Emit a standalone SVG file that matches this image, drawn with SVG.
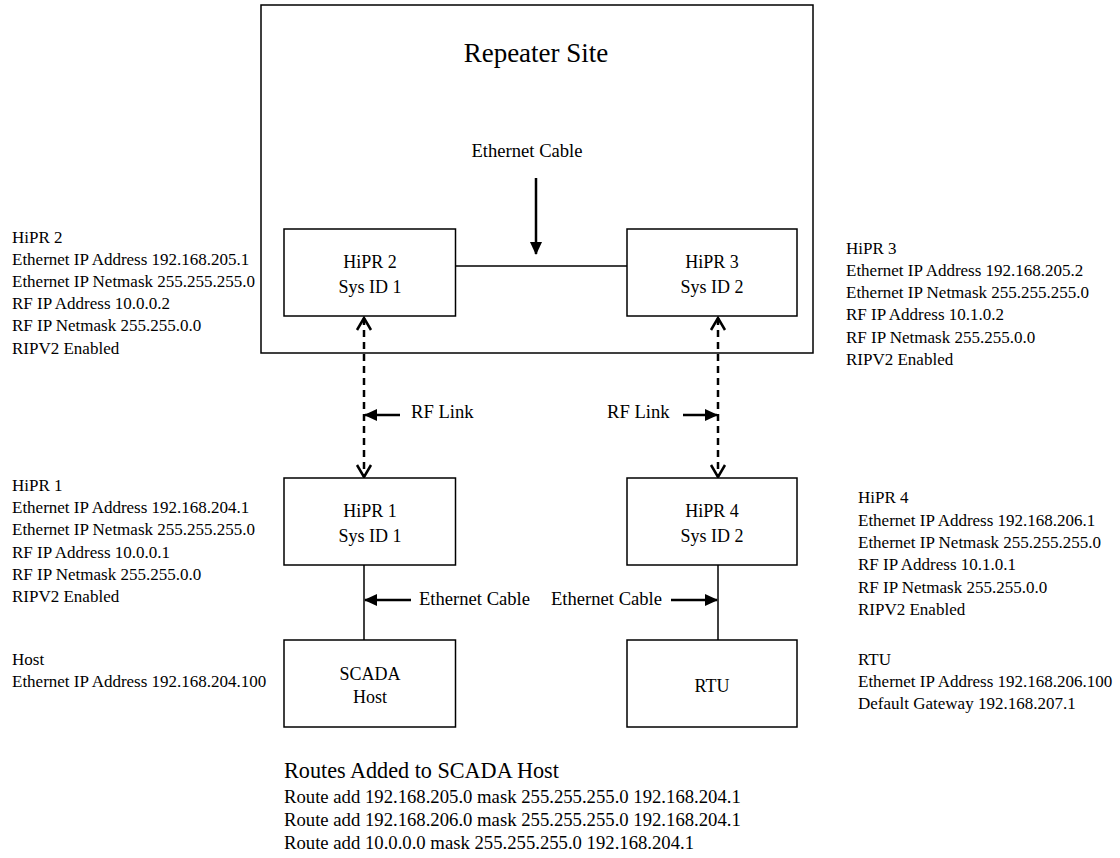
<svg xmlns="http://www.w3.org/2000/svg" width="1120" height="858" viewBox="0 0 1120 858">
<style>
text{font-family:"Liberation Serif","Times New Roman",serif;fill:#000}
.side{font-size:17px}
.box{fill:#fff;stroke:#000;stroke-width:1.5}
.bl{font-size:18px;text-anchor:middle}
.lbl{font-size:18.6px}
.route{font-size:18.7px}
.wire{stroke:#000;stroke-width:1.5;fill:none}
.arr{stroke:#000;stroke-width:2.5;fill:none;marker-end:url(#ah)}
.rf{stroke:#000;stroke-width:2.5;fill:none;stroke-dasharray:7 5;marker-start:url(#ch);marker-end:url(#ch)}
</style>
<defs>
<marker id="ah" markerUnits="userSpaceOnUse" markerWidth="13" markerHeight="12" refX="12" refY="6" orient="auto"><path d="M0,0 L13,6 L0,12 z" fill="#000"/></marker>
<marker id="ch" markerUnits="userSpaceOnUse" markerWidth="16" markerHeight="18" refX="13" refY="9" orient="auto-start-reverse"><path d="M1,2 L13,9 L1,16" fill="none" stroke="#000" stroke-width="2.5"/></marker>
</defs>
<rect width="1120" height="858" fill="#fff"/>
<g id="repeater-site">
<rect x="261" y="5" width="552" height="348" fill="none" stroke="#000" stroke-width="1.5"/>
<text x="536" y="62" font-size="27" text-anchor="middle">Repeater Site</text>
</g>
<g id="connectors">
<line class="wire" x1="455.5" y1="266" x2="627" y2="266"/>
<line class="wire" x1="364" y1="565" x2="364" y2="640"/>
<line class="wire" x1="718" y1="565" x2="718" y2="640"/>
<line class="rf" x1="364" y1="318" x2="364" y2="477"/>
<line class="rf" x1="718" y1="318" x2="718" y2="477"/>
<line class="arr" x1="536" y1="178" x2="536" y2="254"/>
<line class="arr" x1="400" y1="415" x2="365" y2="415"/>
<line class="arr" x1="683" y1="415" x2="717" y2="415"/>
<line class="arr" x1="411" y1="600" x2="365" y2="600"/>
<line class="arr" x1="671" y1="600" x2="717" y2="600"/>
<text class="lbl" x="527" y="157" text-anchor="middle">Ethernet Cable</text>
<text class="lbl" x="411" y="418">RF Link</text>
<text class="lbl" x="607" y="418">RF Link</text>
<text class="lbl" x="419" y="605">Ethernet Cable</text>
<text class="lbl" x="551" y="605">Ethernet Cable</text>
</g>
<g id="hipr2">
<rect class="box" x="284" y="229" width="171.5" height="87"/>
<text class="bl" x="370" y="268">HiPR 2</text>
<text class="bl" x="370" y="293">Sys ID 1</text>
</g>
<g id="hipr3">
<rect class="box" x="627" y="229" width="170" height="87"/>
<text class="bl" x="712" y="268">HiPR 3</text>
<text class="bl" x="712" y="293">Sys ID 2</text>
</g>
<g id="hipr1">
<rect class="box" x="284" y="478" width="171.5" height="87"/>
<text class="bl" x="370" y="517">HiPR 1</text>
<text class="bl" x="370" y="542">Sys ID 1</text>
</g>
<g id="hipr4">
<rect class="box" x="627" y="478" width="170" height="87"/>
<text class="bl" x="712" y="517">HiPR 4</text>
<text class="bl" x="712" y="542">Sys ID 2</text>
</g>
<g id="scada-host">
<rect class="box" x="284" y="640" width="171.5" height="87"/>
<text class="bl" x="370" y="680">SCADA</text>
<text class="bl" x="370" y="703">Host</text>
</g>
<g id="rtu">
<rect class="box" x="627" y="640" width="170" height="87"/>
<text class="bl" x="712" y="692">RTU</text>
</g>
<g id="hipr2-info" class="side">
<text x="12" y="242.5">HiPR 2</text>
<text x="12" y="264.7">Ethernet IP Address 192.168.205.1</text>
<text x="12" y="286.9">Ethernet IP Netmask 255.255.255.0</text>
<text x="12" y="309.1">RF IP Address 10.0.0.2</text>
<text x="12" y="331.3">RF IP Netmask 255.255.0.0</text>
<text x="12" y="353.5">RIPV2 Enabled</text>
</g>
<g id="hipr3-info" class="side">
<text x="846" y="253.5">HiPR 3</text>
<text x="846" y="275.8">Ethernet IP Address 192.168.205.2</text>
<text x="846" y="298.1">Ethernet IP Netmask 255.255.255.0</text>
<text x="846" y="320.4">RF IP Address 10.1.0.2</text>
<text x="846" y="342.7">RF IP Netmask 255.255.0.0</text>
<text x="846" y="365">RIPV2 Enabled</text>
</g>
<g id="hipr1-info" class="side">
<text x="12" y="491">HiPR 1</text>
<text x="12" y="513.2">Ethernet IP Address 192.168.204.1</text>
<text x="12" y="535.4">Ethernet IP Netmask 255.255.255.0</text>
<text x="12" y="557.6">RF IP Address 10.0.0.1</text>
<text x="12" y="579.8">RF IP Netmask 255.255.0.0</text>
<text x="12" y="602">RIPV2 Enabled</text>
</g>
<g id="hipr4-info" class="side">
<text x="858" y="503.3">HiPR 4</text>
<text x="858" y="525.6">Ethernet IP Address 192.168.206.1</text>
<text x="858" y="547.9">Ethernet IP Netmask 255.255.255.0</text>
<text x="858" y="570.2">RF IP Address 10.1.0.1</text>
<text x="858" y="592.5">RF IP Netmask 255.255.0.0</text>
<text x="858" y="615">RIPV2 Enabled</text>
</g>
<g id="host-info" class="side">
<text x="12" y="665">Host</text>
<text x="12" y="687">Ethernet IP Address 192.168.204.100</text>
</g>
<g id="rtu-info" class="side">
<text x="858" y="665">RTU</text>
<text x="858" y="687">Ethernet IP Address 192.168.206.100</text>
<text x="858" y="709">Default Gateway 192.168.207.1</text>
</g>
<g id="routes">
<text x="284" y="778" font-size="22.2">Routes Added to SCADA Host</text>
<text class="route" x="284" y="803">Route add 192.168.205.0 mask 255.255.255.0 192.168.204.1</text>
<text class="route" x="284" y="826">Route add 192.168.206.0 mask 255.255.255.0 192.168.204.1</text>
<text class="route" x="284" y="849">Route add 10.0.0.0 mask 255.255.255.0 192.168.204.1</text>
</g>
</svg>
